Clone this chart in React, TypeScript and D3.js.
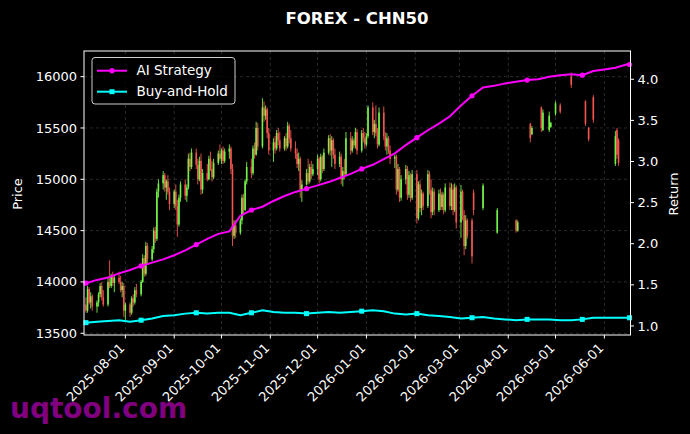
import React from 'react';
import * as d3 from 'd3';

const N = null;

// daily OHLC, one row per week (Mon..Fri), N = no quote that day
const opens = [
  13780, 13720, 13930, 13800, 13860,
  13760, 13800, 13880, 13960, 13850,
  13780, 14000, 13960, 14050, 13990,
  14040, 14000, 13920, 13960, 13720,
  13780, 13700, 13840, 13800, 13920,
  13880, 14000, 14230, 14080, 14350,
  14220, 14320, 14500, 14420, 14880,
  14960, 15040, 14920, 14980, 14880,
  14760, 14880, 14740, 14560, 14820,
  14950, 14840, 14920, 15200, 15120,
  15260, 15140, 15000, 15180, 14900,
  15060, 15000, 15200, 15100, 15020,
  15160, 15250, 15200, 15280, 15180,
  15270, 15300, 15100, 14450, 14550,
  14480, 14600, 14820, 14700, 14980,
  15120, 15060, 15300, 15240, 15500,
  15320, 15700, 15620, 15680, 15450,
  15280, 15360, 15300, 15450, 15380,
  15300, 15400, 15320, 15520, 15400,
  15300, 15250, 15150, 15200, 14900,
  14950, 15060, 14980, 15120, 15050,
  15100, 15200, 15000, 15220, 15100,
  15260, 15400, 15280, 15380, 15240,
  15150, 15220, 15000, 15080, 15050,
  15400, 15280, 15380, 15330, 15460,
  15280, 15450, 15400, 15340, 15420,
  15700, 15460, 15540, 15450, 15340,
  15650, 15420, 15320, 15400, 15280,
  15200, 15220, 14900, 15100, 14820,
  15000, 15100, 14850, 15040, 14820,
  15050, 14620, 14950, 14720, 14860,
  14740, 15050, 14900, 14680, 14880,
  14700, 14860, 14730, 14850, 14700,
  14920, 14740, 14900, 14700, 14920,
  14580, 14880, 14650, 14350, 14600,
  14600, 14870, N, N, N,
  14720, N, N, N, N,
  N, N, 14480, N, N,
  N, N, N, N, N,
  14600, 14500, N, N, N,
  N, N, 15540, 15440, N,
  N, N, 15700, 15480, N,
  15480, 15510, N, N, 15640,
  15720, N, N, N, N,
  16000, N, N, N, N,
  N, N, 15760, N, 15500,
  15800, N, N, N, N,
  N, N, N, N, N,
  15150, 15480, 15380, N, N,
  N, N, N,
];

const highs = [
  13850, 13960, 13950, 13900, 13880,
  13820, 13900, 13990, 14000, 13920,
  14050, 14210, 14080, 14100, 14060,
  14100, 14060, 14000, 13990, 13800,
  13800, 13860, 13880, 13950, 13980,
  14020, 14270, 14260, 14390, 14380,
  14350, 14530, 14540, 14910, 15000,
  15080, 15060, 15000, 15040, 14920,
  14900, 14950, 14800, 14850, 14980,
  15000, 14950, 15250, 15260, 15300,
  15300, 15200, 15220, 15250, 15100,
  15150, 15230, 15270, 15180, 15200,
  15280, 15340, 15300, 15320, 15300,
  15340, 15320, 15150, 14600, 14600,
  14620, 14850, 14860, 15000, 15170,
  15200, 15330, 15360, 15560, 15550,
  15790, 15760, 15720, 15700, 15500,
  15400, 15420, 15480, 15500, 15460,
  15420, 15450, 15560, 15540, 15480,
  15370, 15300, 15260, 15220, 14990,
  15100, 15200, 15150, 15180, 15150,
  15240, 15220, 15250, 15240, 15300,
  15430, 15440, 15420, 15400, 15300,
  15270, 15250, 15120, 15200, 15460,
  15460, 15420, 15400, 15500, 15490,
  15480, 15500, 15460, 15450, 15720,
  15750, 15580, 15720, 15500, 15700,
  15710, 15460, 15450, 15420, 15330,
  15240, 15240, 15150, 15120, 15040,
  15140, 15130, 15080, 15060, 15090,
  15090, 14980, 14990, 14900, 14880,
  15090, 15080, 15000, 14920, 14910,
  14900, 14910, 14880, 14870, 14960,
  14970, 14960, 14950, 14960, 14940,
  14945, 14900, 14700, 14650, 14620,
  14620, 14900, N, N, N,
  14960, N, N, N, N,
  N, N, 14720, N, N,
  N, N, N, N, N,
  14610, 14600, N, N, N,
  N, N, 15550, 15520, N,
  N, N, 15710, 15680, N,
  15660, 15560, N, N, 15760,
  15740, N, N, N, N,
  16040, N, N, N, N,
  N, N, 15770, N, 15510,
  15820, N, N, N, N,
  N, N, N, N, N,
  15470, 15500, 15400, N, N,
  N, N, N,
];

const lows = [
  13700, 13700, 13780, 13740, 13720,
  13700, 13760, 13850, 13820, 13760,
  13760, 13940, 13940, 13960, 13900,
  13980, 13900, 13850, 13660, 13630,
  13660, 13680, 13760, 13780, 13850,
  13860, 13990, 14050, 14060, 14180,
  14200, 14280, 14380, 14400, 14820,
  14900, 14880, 14800, 14850, 14700,
  14720, 14700, 14440, 14540, 14780,
  14800, 14780, 14900, 15080, 15100,
  15100, 14950, 14980, 14850, 14860,
  14980, 14990, 15080, 14980, 15000,
  15140, 15180, 15150, 15150, 15160,
  15200, 15050, 14350, 14420, 14430,
  14460, 14560, 14650, 14690, 14950,
  15010, 15040, 15200, 15230, 15280,
  15300, 15560, 15580, 15400, 15240,
  15170, 15250, 15280, 15330, 15270,
  15280, 15280, 15300, 15350, 15270,
  15200, 15110, 15080, 14820, 14780,
  14940, 14950, 14960, 15000, 15030,
  15040, 14960, 14980, 15060, 15080,
  15240, 15230, 15120, 15200, 15100,
  15120, 14950, 14930, 15000, 15040,
  15240, 15260, 15300, 15300, 15240,
  15260, 15360, 15300, 15320, 15400,
  15430, 15400, 15420, 15300, 15320,
  15380, 15280, 15240, 15250, 15150,
  15110, 14850, 14880, 14780, 14790,
  14950, 14800, 14820, 14780, 14800,
  14570, 14600, 14680, 14650, 14700,
  14720, 14850, 14620, 14650, 14650,
  14680, 14700, 14700, 14660, 14680,
  14700, 14700, 14650, 14680, 14520,
  14430, 14600, 14260, 14320, 14420,
  14180, 14650, N, N, N,
  14700, N, N, N, N,
  N, N, 14470, N, N,
  N, N, N, N, N,
  14480, 14490, N, N, N,
  N, N, 15360, 15430, N,
  N, N, 15460, 15470, N,
  15460, 15500, N, N, 15620,
  15640, N, N, N, N,
  15890, N, N, N, N,
  N, N, 15520, N, 15370,
  15550, N, N, N, N,
  N, N, N, N, N,
  15130, 15200, 15130, N, N,
  N, N, N,
];

const closes = [
  13720, 13930, 13800, 13860, 13760,
  13800, 13880, 13960, 13850, 13780,
  14000, 13960, 14050, 13990, 14040,
  14000, 13920, 13960, 13720, 13780,
  13700, 13840, 13800, 13920, 13880,
  14000, 14230, 14080, 14350, 14220,
  14320, 14500, 14420, 14880, 14960,
  15040, 14920, 14980, 14880, 14760,
  14880, 14740, 14560, 14820, 14950,
  14840, 14920, 15200, 15120, 15260,
  15140, 15000, 15180, 14900, 15060,
  15000, 15200, 15100, 15020, 15160,
  15250, 15200, 15280, 15180, 15270,
  15300, 15100, 14450, 14550, 14480,
  14600, 14820, 14700, 14980, 15120,
  15060, 15300, 15240, 15500, 15320,
  15700, 15620, 15680, 15450, 15280,
  15360, 15300, 15450, 15380, 15300,
  15400, 15320, 15520, 15400, 15300,
  15250, 15150, 15200, 14900, 14950,
  15060, 14980, 15120, 15050, 15100,
  15200, 15000, 15220, 15100, 15260,
  15400, 15280, 15380, 15240, 15150,
  15220, 15000, 15080, 15050, 15400,
  15280, 15380, 15330, 15460, 15280,
  15450, 15400, 15340, 15420, 15700,
  15460, 15540, 15450, 15340, 15650,
  15420, 15320, 15400, 15280, 15200,
  15220, 14900, 15100, 14820, 15000,
  15100, 14850, 15040, 14820, 15050,
  14620, 14950, 14720, 14860, 14740,
  15050, 14900, 14680, 14880, 14700,
  14860, 14730, 14850, 14700, 14920,
  14740, 14900, 14700, 14920, 14580,
  14880, 14650, 14350, 14600, 14450,
  14250, 14700, N, N, N,
  14940, N, N, N, N,
  N, N, 14700, N, N,
  N, N, N, N, N,
  14500, 14580, N, N, N,
  N, N, 15400, 15500, N,
  N, N, 15500, 15650, N,
  15620, 15550, N, N, 15740,
  15660, N, N, N, N,
  15920, N, N, N, N,
  N, N, 15540, N, 15390,
  15580, N, N, N, N,
  N, N, N, N, N,
  15420, 15240, 15160, N, N,
  N, N, N,
];

// cumulative return, sampled each Monday + last day
const aiReturn = [
  1.52, 1.56, 1.59, 1.64, 1.68, 1.73, 1.77, 1.81, 1.86, 1.92,
  1.99, 2.06, 2.12, 2.15, 2.34, 2.41, 2.45, 2.52, 2.58, 2.63,
  2.67, 2.71, 2.75, 2.80, 2.85, 2.91, 2.96, 3.03, 3.10, 3.20,
  3.29, 3.38, 3.46, 3.55, 3.68, 3.80, 3.90, 3.92, 3.95, 3.97,
  3.99, 4.00, 4.03, 4.05, 4.06, 4.05, 4.10, 4.12, 4.14, 4.18, 4.18,
];
const buyHoldReturn = [
  1.04, 1.05, 1.06, 1.07, 1.05, 1.07, 1.09, 1.12, 1.13, 1.15,
  1.16, 1.15, 1.16, 1.16, 1.13, 1.16, 1.19, 1.17, 1.16, 1.16,
  1.15, 1.16, 1.17, 1.16, 1.17, 1.18, 1.19, 1.18, 1.15, 1.14,
  1.15, 1.13, 1.12, 1.11, 1.09, 1.10, 1.11, 1.09, 1.08, 1.07,
  1.08, 1.08, 1.08, 1.07, 1.07, 1.08, 1.10, 1.10, 1.10, 1.10, 1.10,
];

const monthTicks = ['2025-08-01', '2025-09-01', '2025-10-01', '2025-11-01', '2025-12-01', '2026-01-01',
  '2026-02-01', '2026-03-01', '2026-04-01', '2026-05-01', '2026-06-01'];
const priceTicks = [13500, 14000, 14500, 15000, 15500, 16000];
const returnTicks = [1.0, 1.5, 2.0, 2.5, 3.0, 3.5, 4.0];

const W = 690, H = 434;
const left = 84, right = 630.5, top = 51, bottom = 335;
const font = 'DejaVu Sans, sans-serif';
const UP = '#74f24a', DOWN = '#f2554f';

const firstDay = new Date(2025, 6, 7);
const dayDates = opens.map((_, i) => d3.timeDay.offset(firstDay, Math.floor(i / 5) * 7 + (i % 5)));
const lastDay = dayDates[dayDates.length - 1];
const lineDates = aiReturn.map((_, i) => (i < aiReturn.length - 1 ? d3.timeDay.offset(firstDay, i * 7) : lastDay));

export default function App() {
  const parse = d3.timeParse('%Y-%m-%d');
  const x = d3.scaleTime()
    .domain([new Date(2025, 6, 5, 18), new Date(2026, 5, 17, 14)])
    .range([left, right]);
  const y = d3.scaleLinear().domain([13483, 16250]).range([bottom, top]);
  const y2 = d3.scaleLinear().domain([0.89, 4.344]).range([bottom, top]);

  const candles = dayDates
    .map((d, i) => ({ d, o: opens[i], h: highs[i], l: lows[i], c: closes[i] }))
    .filter((k) => k.o != null);

  const pts = (vals: number[]) => vals.map((v, i) => [x(lineDates[i]), y2(v)] as [number, number]);
  const line = d3.line();
  const ai = pts(aiReturn);
  const bh = pts(buyHoldReturn);
  const every = 5;

  return (
    <svg width={W} height={H} style={{ position: 'absolute', left: 0, top: 0, background: '#000' }} fontFamily={font}>
      <rect width={W} height={H} fill="#000" />
      <text x={357} y={24} fill="#fff" fontSize={16.5} fontWeight="bold" textAnchor="middle">FOREX - CHN50</text>

      {/* grid */}
      {monthTicks.map((t) => (
        <line key={t} x1={x(parse(t)!)} x2={x(parse(t)!)} y1={top} y2={bottom}
          stroke="#808080" strokeOpacity={0.55} strokeWidth={0.6} strokeDasharray="3,3" />
      ))}
      {priceTicks.map((t) => (
        <line key={t} x1={left} x2={right} y1={y(t)} y2={y(t)}
          stroke="#808080" strokeOpacity={0.55} strokeWidth={0.6} strokeDasharray="3,3" />
      ))}

      {/* candles */}
      <g>
        {candles.map((k, i) => {
          const cx = x(k.d);
          const col = k.c >= k.o ? UP : DOWN;
          const yt = y(Math.max(k.o, k.c));
          const yb = y(Math.min(k.o, k.c));
          return (
            <g key={i}>
              <line x1={cx} x2={cx} y1={y(k.h)} y2={y(k.l)} stroke={col} strokeWidth={0.9} />
              <rect x={cx - 0.8} y={yt} width={1.6} height={Math.max(yb - yt, 0.8)} fill={col} />
            </g>
          );
        })}
      </g>

      {/* return lines */}
      <path d={line(bh) || ''} fill="none" stroke="#00ffff" strokeWidth={2} />
      {bh.filter((_, i) => i % every === 0).map((p, i) => (
        <rect key={i} x={p[0] - 2.5} y={p[1] - 2.5} width={5} height={5} fill="#00ffff" />
      ))}
      <path d={line(ai) || ''} fill="none" stroke="#ff00ff" strokeWidth={2} />
      {ai.filter((_, i) => i % every === 0).map((p, i) => (
        <circle key={i} cx={p[0]} cy={p[1]} r={2.6} fill="#ff00ff" />
      ))}

      {/* frame */}
      <rect x={left} y={top} width={right - left} height={bottom - top} fill="none" stroke="#fff" strokeWidth={1} />

      {/* left axis */}
      {priceTicks.map((t) => (
        <g key={t}>
          <line x1={left - 3.5} x2={left} y1={y(t)} y2={y(t)} stroke="#fff" />
          <text x={left - 7} y={y(t)} dy="0.35em" fill="#fff" fontSize={13} textAnchor="end">{t}</text>
        </g>
      ))}
      <text transform={`translate(17.5,194) rotate(-90)`} fill="#fff" fontSize={13} textAnchor="middle" dy="0.35em">Price</text>

      {/* right axis */}
      {returnTicks.map((t) => (
        <g key={t}>
          <line x1={right} x2={right + 3.5} y1={y2(t)} y2={y2(t)} stroke="#fff" />
          <text x={right + 7} y={y2(t)} dy="0.35em" fill="#fff" fontSize={13}>{t.toFixed(1)}</text>
        </g>
      ))}
      <text transform={`translate(673,194) rotate(-90)`} fill="#fff" fontSize={13} textAnchor="middle" dy="0.35em">Return</text>

      {/* bottom axis */}
      {monthTicks.map((t) => {
        const tx = x(parse(t)!);
        return (
          <g key={t}>
            <line x1={tx} x2={tx} y1={bottom} y2={bottom + 3.5} stroke="#fff" />
            <text transform={`translate(${tx},${bottom + 14}) rotate(-45)`} fill="#fff" fontSize={13} textAnchor="end">{t}</text>
          </g>
        );
      })}

      {/* legend */}
      <rect x={92} y={57.5} width={143} height={46.5} rx={3} fill="#000" fillOpacity={0.8} stroke="#cccccc" strokeWidth={1} />
      <line x1={97} x2={127} y1={70.7} y2={70.7} stroke="#ff00ff" strokeWidth={2} />
      <circle cx={112} cy={70.7} r={2.6} fill="#ff00ff" />
      <text x={136.5} y={70.7} dy="0.35em" fill="#fff" fontSize={13.5}>AI Strategy</text>
      <line x1={97} x2={127} y1={91.7} y2={91.7} stroke="#00ffff" strokeWidth={2} />
      <rect x={109.5} y={89.2} width={5} height={5} fill="#00ffff" />
      <text x={136.5} y={91.7} dy="0.35em" fill="#fff" fontSize={13.5}>Buy-and-Hold</text>

      <text x={10} y={418} fill="#800080" fontSize={28} fontWeight="bold">uqtool.com</text>
    </svg>
  );
}
